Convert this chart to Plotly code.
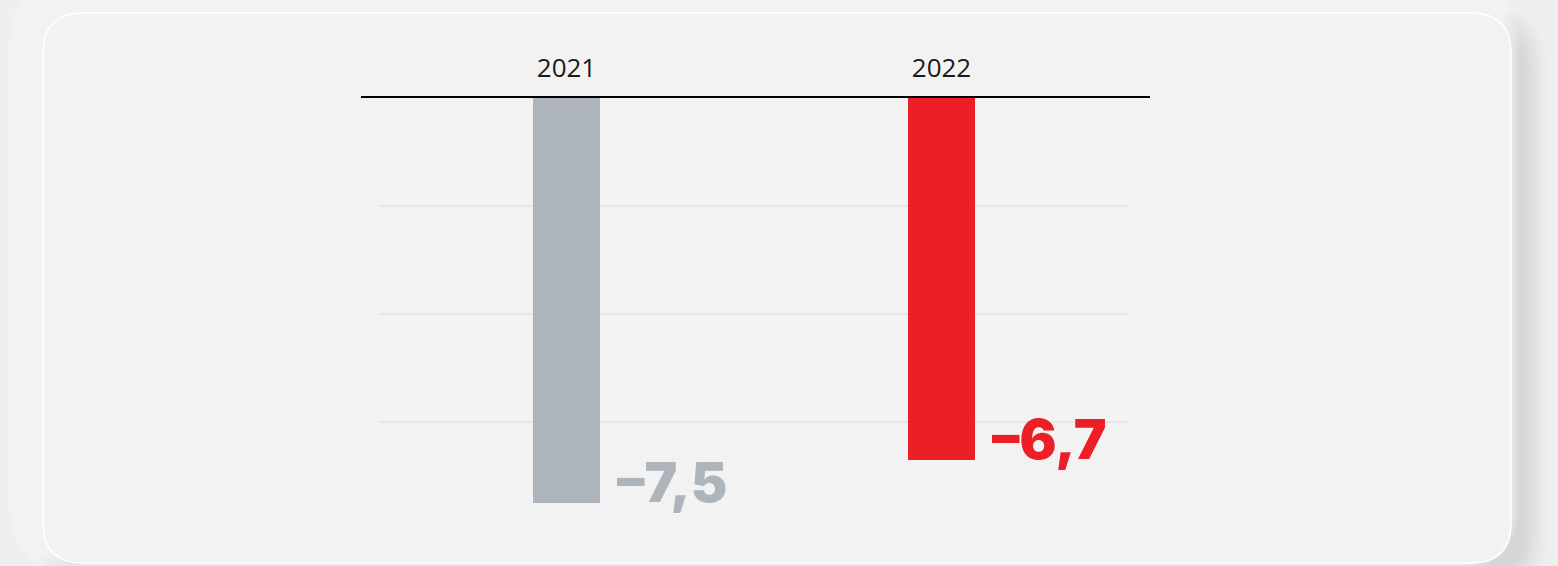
import plotly.graph_objects as go

# --- data ---------------------------------------------------------------
years = ["2021", "2022"]
values = [-7.5, -6.7]
value_labels = ["–7,5", "–6,7"]
bar_colors = ["#adb4bc", "#ed1f26"]
grid_levels = [-2, -4, -6]

W, H = 1558, 566
fig = go.Figure()

xpos = list(range(len(years)))
fig.add_trace(go.Bar(
    x=xpos, y=values, width=0.179,
    marker=dict(color=bar_colors, line=dict(width=0)),
    hoverinfo="skip", showlegend=False,
))


def P(px, py):
    # pixel position -> paper coordinates (margins are zero)
    return f"{px / W:.6f},{1 - py / H:.6f}"


def rounded_rect(x0, y0, x1, y1, r):
    return (f"M{P(x0 + r, y0)} L{P(x1 - r, y0)} Q{P(x1, y0)} {P(x1, y0 + r)} "
            f"L{P(x1, y1 - r)} Q{P(x1, y1)} {P(x1 - r, y1)} L{P(x0 + r, y1)} "
            f"Q{P(x0, y1)} {P(x0, y1 - r)} L{P(x0, y0 + r)} Q{P(x0, y0)} {P(x0 + r, y0)} Z")


shapes = []
cx0, cy0, cx1, cy1, rad = 43, 13, 1511, 563, 40

# soft shadow (bottom-right) and highlight (top-left) around the card
for k in range(1, 26):
    shapes.append(dict(type="path", xref="paper", yref="paper", layer="below",
                       path=rounded_rect(cx0 + 16 - k, cy0 + 16 - k, cx1 + 12 + k, cy1 + 12 + k, rad + k),
                       fillcolor="rgba(0,0,0,0.0045)", line=dict(width=0)))
for k in range(1, 30):
    shapes.append(dict(type="path", xref="paper", yref="paper", layer="below",
                       path=rounded_rect(cx0 - 6 - k, cy0 - 6 - k, cx1 - 20 + k, cy1 - 20 + k, rad + k),
                       fillcolor="rgba(255,255,255,0.07)", line=dict(width=0)))
# card
shapes.append(dict(type="path", xref="paper", yref="paper", layer="below",
                   path=rounded_rect(cx0, cy0, cx1, cy1, rad),
                   fillcolor="#f2f2f2", line=dict(color="#ffffff", width=1.5)))

# horizontal guides
for g in grid_levels:
    shapes.append(dict(type="line", xref="x", yref="y", layer="below",
                       x0=-0.5, x1=len(years) - 0.5, y0=g, y1=g,
                       line=dict(color="#dcdcdc", width=1)))

annotations = []
for i, (v, t, c) in enumerate(zip(values, value_labels, bar_colors)):
    annotations.append(dict(
        x=i + 0.0895, y=v, xref="x", yref="y", text=t, showarrow=False,
        xanchor="left", yanchor="bottom", xshift=15, yshift=-14,
        font=dict(family="Inter, Lato, 'Open Sans', sans-serif", size=55,
                  color=c, weight=900),
    ))

fig.update_layout(
    width=W, height=H,
    margin=dict(l=0, r=0, t=0, b=0),
    paper_bgcolor="#efefef", plot_bgcolor="rgba(0,0,0,0)",
    shapes=shapes, annotations=annotations,
    bargap=0,
    xaxis=dict(domain=[361 / W, 1150 / W], range=[-0.548, 1.556],
               tickvals=xpos, ticktext=years, side="top",
               showgrid=False, zeroline=False,
               showline=True, linecolor="#000000", linewidth=1.5,
               ticks="", ticklabelstandoff=9, automargin=False, fixedrange=True,
               tickfont=dict(family="'Open Sans', sans-serif", size=26, color="#1a1a1a")),
    yaxis=dict(domain=[(H - 530) / H, (H - 98) / H], range=[-8, 0],
               visible=False, automargin=False, fixedrange=True),
)

fig.write_html("out.html")
